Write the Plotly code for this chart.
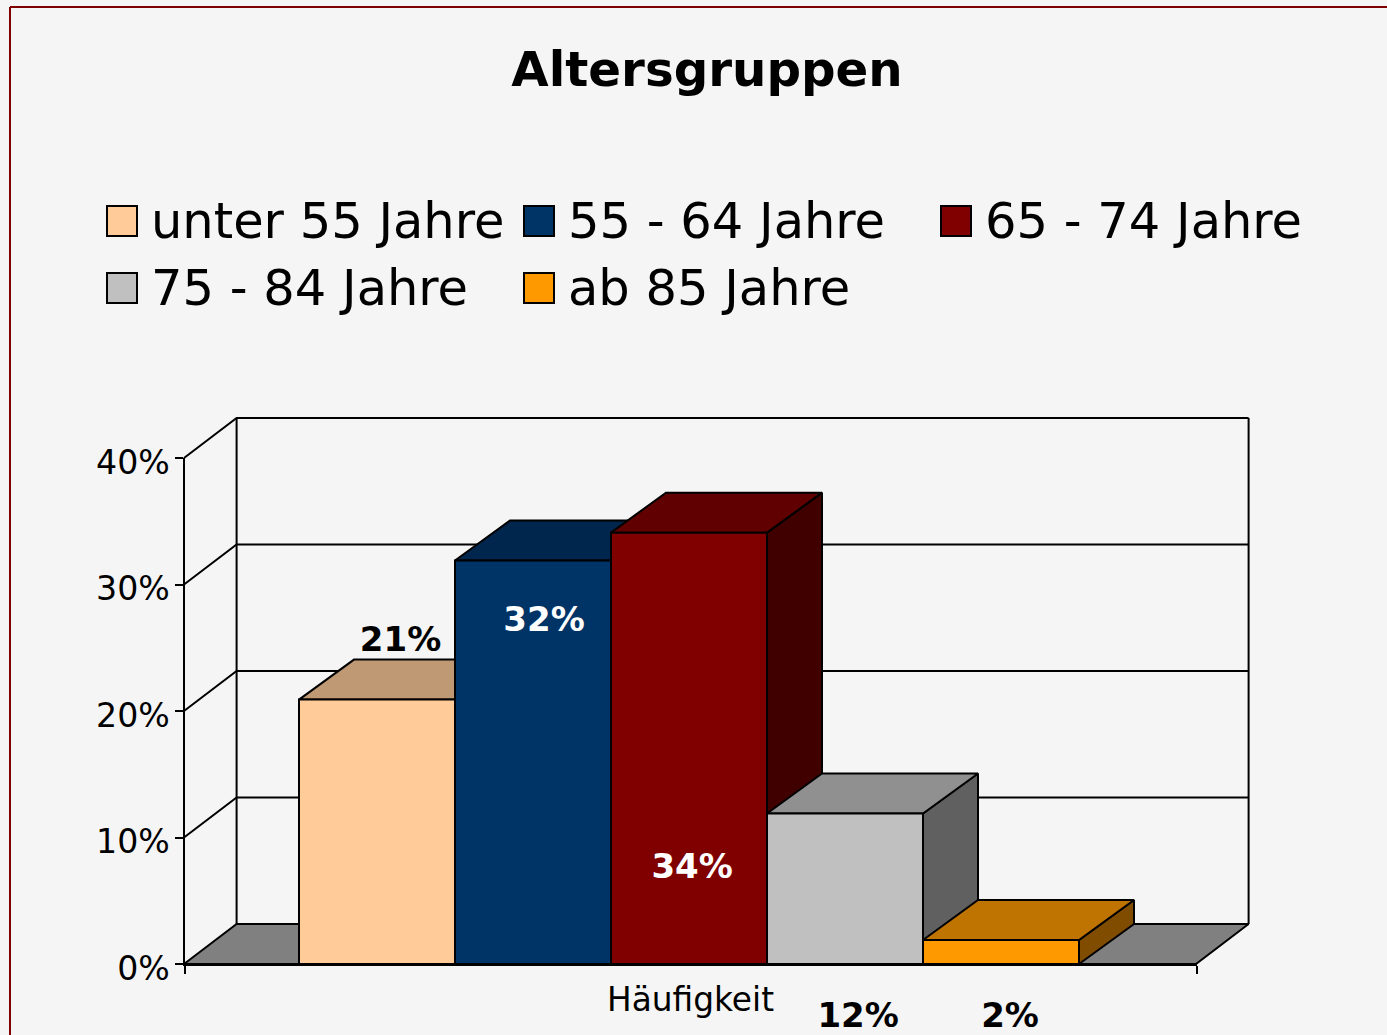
import plotly.graph_objects as go

# ---- data ----
categories = ["unter 55 Jahre", "55 - 64 Jahre", "65 - 74 Jahre", "75 - 84 Jahre", "ab 85 Jahre"]
values = [20.9, 31.9, 34.1, 11.9, 1.9]
data_labels = ["21%", "32%", "34%", "12%", "2%"]
y_ticks = [0, 10, 20, 30, 40]
y_tick_labels = ["0%", "10%", "20%", "30%", "40%"]
x_label = "Häufigkeit"
title_text = "Altersgruppen"

# ---- styling ----
front_colors = ["#FFCC99", "#003366", "#800000", "#C0C0C0", "#FF9900"]
top_colors = ["#BF9973", "#00264D", "#600000", "#909090", "#BF7300"]
side_colors = ["#806633", "#001A33", "#400000", "#606060", "#804D00"]
label_colors = ["#000000", "#FFFFFF", "#FFFFFF", "#000000", "#000000"]
label_x = [1.388, 2.308, 3.257, 4.321, 5.295]       # label centres, axis units
label_y = [25.4, 27.0, 7.5, -4.3, -4.3]
BG = "#F5F5F5"
FONT = "DejaVu Sans"
W, H = 1387, 1035

# geometry of the pseudo-3D box: one x unit is one bar width
PX_X0, PX_UNIT = 184, 156.0
PX_Y0, PX_PCT = 964, 12.65
x_end = (1196 - PX_X0) / PX_UNIT
bar_start = (299 - PX_X0) / PX_UNIT
wall_dx = 52.6 / PX_UNIT
bar_dx = 55 / PX_UNIT
depth_dy = 40 / PX_PCT

fig = go.Figure()


def poly(xs, ys, fill=None, width=2):
    fig.add_trace(go.Scatter(
        x=xs, y=ys, mode="lines", xaxis="x2", yaxis="y2", hoverinfo="skip", showlegend=False,
        fill="toself" if fill else "none", fillcolor=fill,
        line=dict(color="#000000", width=width),
    ))


# axes holder
fig.add_trace(go.Scatter(x=[None], y=[None], xaxis="x", yaxis="y", showlegend=False))

# floor
poly([0, x_end, x_end + wall_dx, wall_dx, 0], [0, 0, depth_dy, depth_dy, 0], fill="#808080")
# back and left walls with grid
for v in y_ticks[1:]:
    poly([0, wall_dx, x_end + wall_dx], [v, v + depth_dy, v + depth_dy])
poly([wall_dx, wall_dx], [depth_dy, y_ticks[-1] + depth_dy])
poly([x_end + wall_dx, x_end + wall_dx], [depth_dy, y_ticks[-1] + depth_dy])

# bars, painted left to right
for i, v in enumerate(values):
    x0, x1 = bar_start + i, bar_start + i + 1
    poly([x1, x1 + bar_dx, x1 + bar_dx, x1, x1], [0, depth_dy, v + depth_dy, v, 0], fill=side_colors[i])
    poly([x0, x0 + bar_dx, x1 + bar_dx, x1, x0], [v, v + depth_dy, v + depth_dy, v, v], fill=top_colors[i])
    poly([x0, x1, x1, x0, x0], [0, 0, v, v, 0], fill=front_colors[i])

# data labels
fig.add_trace(go.Scatter(
    x=label_x, y=label_y, text=data_labels, mode="text", xaxis="x2", yaxis="y2",
    hoverinfo="skip", showlegend=False, cliponaxis=False,
    textfont=dict(family=FONT, size=34, color=label_colors, weight="bold"),
))

# hand-built legend (large swatches)
legend_cols = [106, 523, 940]
legend_rows = [221, 288]
shapes = []
annotations = []
for i, name in enumerate(categories):
    px = legend_cols[i % 3]
    py = legend_rows[i // 3]
    shapes.append(dict(type="rect", xref="paper", yref="paper",
                       x0=(px + 1) / W, x1=(px + 31) / W, y0=1 - (py + 15) / H, y1=1 - (py - 15) / H,
                       fillcolor=front_colors[i], line=dict(color="#000000", width=2)))
    annotations.append(dict(text=name, xref="paper", yref="paper", x=(px + 43) / W, y=1 - py / H,
                            xanchor="left", yanchor="middle", showarrow=False,
                            font=dict(family=FONT, size=49.5, color="#000000")))

# outer border
shapes.append(dict(type="line", xref="paper", yref="paper", x0=10 / W, x1=1, y0=1 - 7 / H, y1=1 - 7 / H,
                   line=dict(color="#800000", width=2)))
shapes.append(dict(type="line", xref="paper", yref="paper", x0=10 / W, x1=10 / W, y0=0, y1=1 - 7 / H,
                   line=dict(color="#800000", width=2)))

fig.update_layout(
    width=W, height=H, margin=dict(l=0, r=0, t=0, b=0, autoexpand=False),
    paper_bgcolor=BG, plot_bgcolor="rgba(0,0,0,0)", showlegend=False,
    font=dict(family=FONT, color="#000000"),
    title=dict(text=title_text, x=707 / W, y=1 - 69 / H, xanchor="center", yanchor="middle",
               font=dict(family=FONT, size=48.3, color="#000000", weight="bold")),
    shapes=shapes, annotations=annotations,
    xaxis=dict(domain=[(PX_X0 + 0.5) / W, 1196.5 / W], range=[0, x_end], anchor="y", automargin=False,
               tickvals=[0, x_end], ticktext=["", ""], ticks="outside", ticklen=8, tickwidth=2, tickcolor="#000000",
               showline=True, linecolor="#000000", linewidth=2, showgrid=False, zeroline=False,
               title=dict(text=x_label, font=dict(family=FONT, size=32.8), standoff=13)),
    yaxis=dict(domain=[1 - PX_Y0 / H, 1 - 458 / H], range=[y_ticks[0], y_ticks[-1]], anchor="x", automargin=False,
               tickvals=y_ticks, ticktext=y_tick_labels, ticks="outside", ticklen=8, tickwidth=2, tickcolor="#000000",
               showline=True, linecolor="#000000", linewidth=2, showgrid=False, zeroline=False,
               ticklabelstandoff=-2, ticklabelshift=4,
               tickfont=dict(family=FONT, size=33.2, color="#000000")),
    xaxis2=dict(domain=[150 / W, 1300 / W], range=[(150 - PX_X0) / PX_UNIT, (1300 - PX_X0) / PX_UNIT],
                anchor="y2", visible=False),
    yaxis2=dict(domain=[0, 1 - 400 / H], range=[(PX_Y0 - H) / PX_PCT, (PX_Y0 - 400) / PX_PCT],
                anchor="x2", visible=False),
)

fig.write_html("out.html", config={"displayModeBar": False},
               post_script="document.body.style.margin='0';document.body.style.overflow='hidden';"
                           "document.body.style.background='" + BG + "';")
